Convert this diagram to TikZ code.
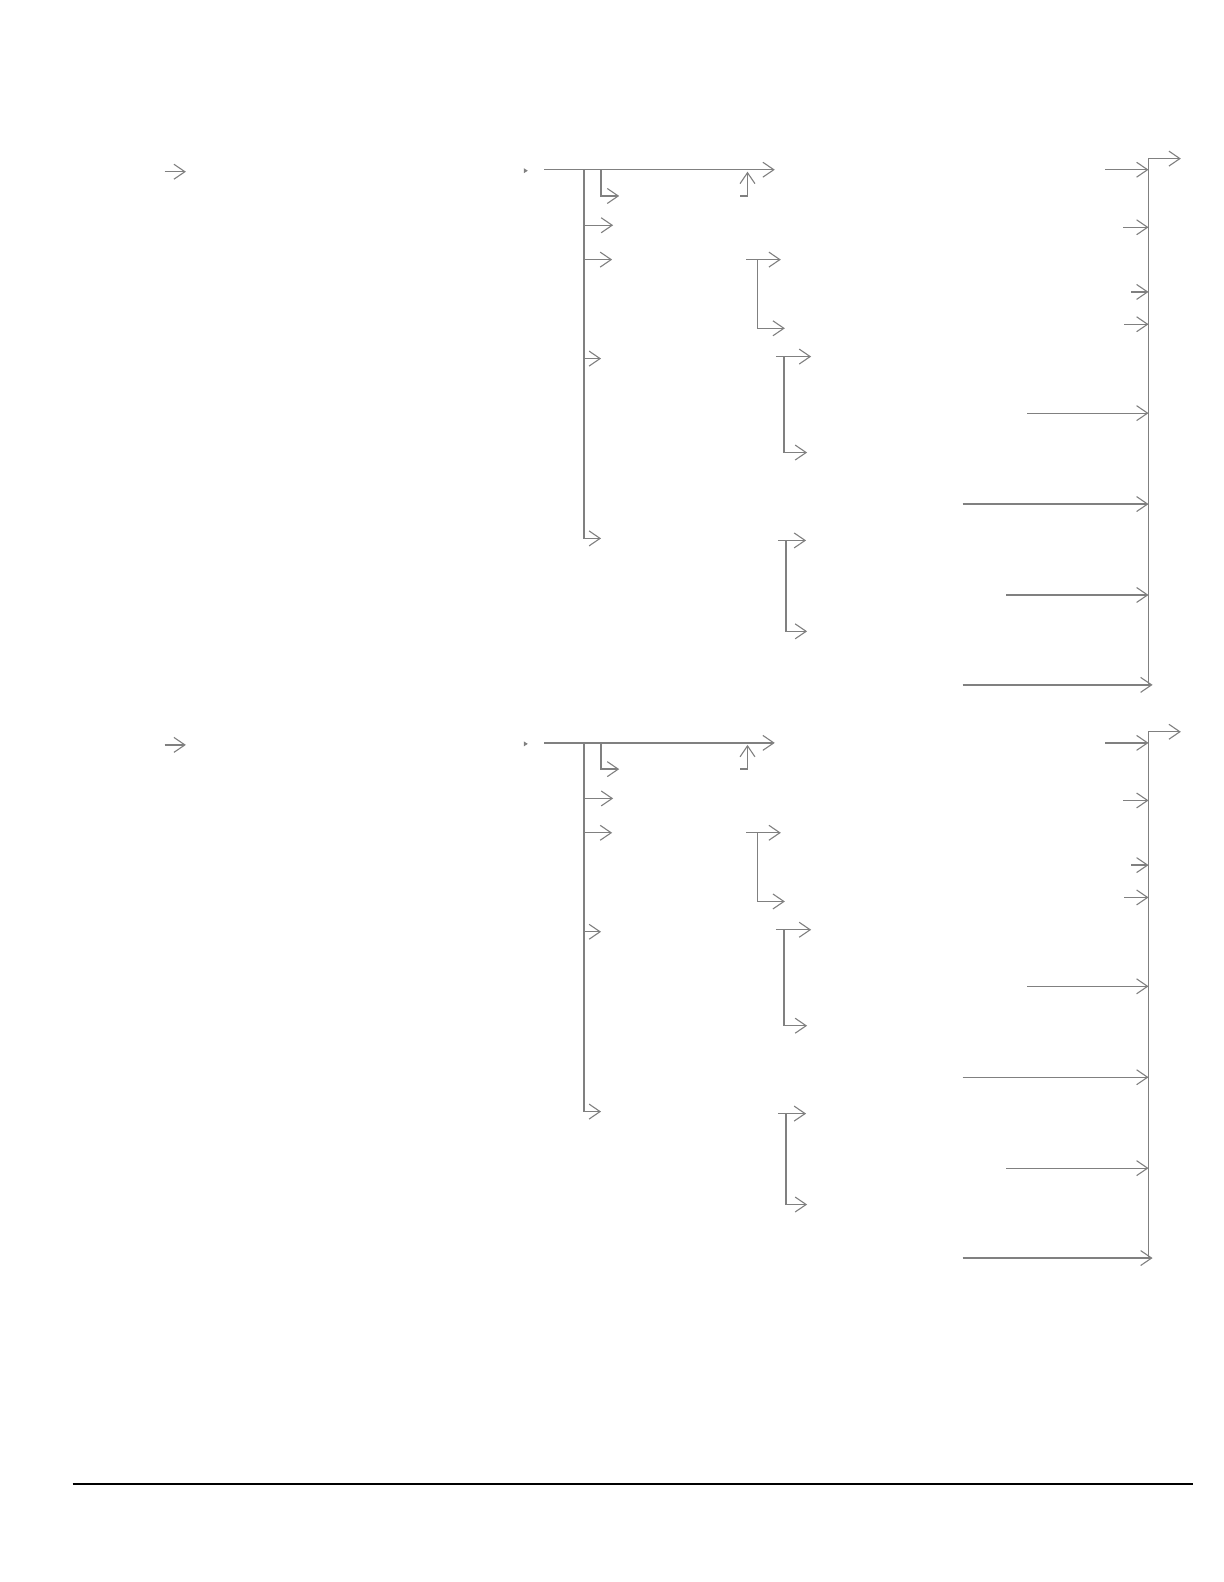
\documentclass[tikz,border=0pt]{standalone}
\usetikzlibrary{arrows.meta}
\definecolor{wire}{RGB}{128,128,128}
\tikzset{
  px/.style={x=0.5bp,y=-0.5bp},
  wireline/.style={draw=wire,line width=0.65pt},
  arr/.style={wireline,-{Straight Barb[length=5.5pt,width=7.5pt,line width=0.55pt]}},
  rule/.style={draw=black,line width=1.2pt}
}
\newcommand{\drawblock}[1]{%
\begin{scope}[shift={(0,#1)}]
  \coordinate (la) at (163,170); \coordinate (lb) at (184,170);
  \draw[arr] (la) -- (lb);
  \coordinate (mk) at (520,169);
  \fill[wire] (mk) ++(-1.5,-2.5) -- ++(4,2.5) -- ++(-4,2.5) -- cycle;
  \coordinate (m0) at (539,168); \coordinate (m1) at (767,168);
  \draw[arr] (m0) -- (m1);
  \coordinate (t0) at (578,168); \coordinate (t1) at (578,533); \coordinate (t2) at (595,533);
  \draw[arr] (t0) -- (t1) -- (t2);
  \coordinate (b0) at (595,168); \coordinate (b1) at (595,194); \coordinate (b2) at (613,194);
  \draw[arr] (b0) -- (b1) -- (b2);
  \coordinate (c0) at (578,223); \coordinate (c1) at (607,223);
  \draw[arr] (c0) -- (c1);
  \coordinate (d0) at (578,257); \coordinate (d1) at (606,257);
  \draw[arr] (d0) -- (d1);
  \coordinate (e0) at (578,355); \coordinate (e1) at (595,355);
  \draw[arr] (e0) -- (e1);
  \coordinate (u0) at (733,194); \coordinate (u1) at (740,194); \coordinate (u2) at (740,170);
  \draw[arr] (u0) -- (u1) -- (u2);
  \coordinate (f0) at (739,257); \coordinate (f1) at (773,257);
  \draw[arr] (f0) -- (f1);
  \coordinate (f2) at (750,257); \coordinate (f3) at (750,325); \coordinate (f4) at (777,325);
  \draw[arr] (f2) -- (f3) -- (f4);
  \coordinate (g0) at (768,353); \coordinate (g1) at (803,353);
  \draw[arr] (g0) -- (g1);
  \coordinate (g2) at (776,353); \coordinate (g3) at (776,448); \coordinate (g4) at (799,448);
  \draw[arr] (g2) -- (g3) -- (g4);
  \coordinate (h0) at (770,535); \coordinate (h1) at (798,535);
  \draw[arr] (h0) -- (h1);
  \coordinate (h2) at (778,535); \coordinate (h3) at (778,625); \coordinate (h4) at (799,625);
  \draw[arr] (h2) -- (h3) -- (h4);
  \coordinate (r0) at (1137,678); \coordinate (r1) at (1137,157); \coordinate (r2) at (1169,157);
  \draw[arr] (r0) -- (r1) -- (r2);
  \foreach \xs/\yy in {1094/168,1112/225,1120/289,1113/321,1017/409,953/499,996/589}{
    \coordinate (ia) at (\xs,\yy); \coordinate (ib) at (1137,\yy);
    \draw[arr] (ia) -- (ib);
  }
  \coordinate (z0) at (953,678); \coordinate (z1) at (1141,678);
  \draw[arr] (z0) -- (z1);
\end{scope}}
\begin{document}
\begin{tikzpicture}[px]
  \useasboundingbox (0,0) rectangle (1224,1582);
  \fill[white] (0,0) rectangle (1224,1582);
  \begin{scope}[scale=1.01]
    \drawblock{0}
    \drawblock{567.5}
    \coordinate (fl) at (72,1469); \coordinate (fr) at (1181,1469);
    \draw[rule] (fl) -- (fr);
  \end{scope}
\end{tikzpicture}
\end{document}
